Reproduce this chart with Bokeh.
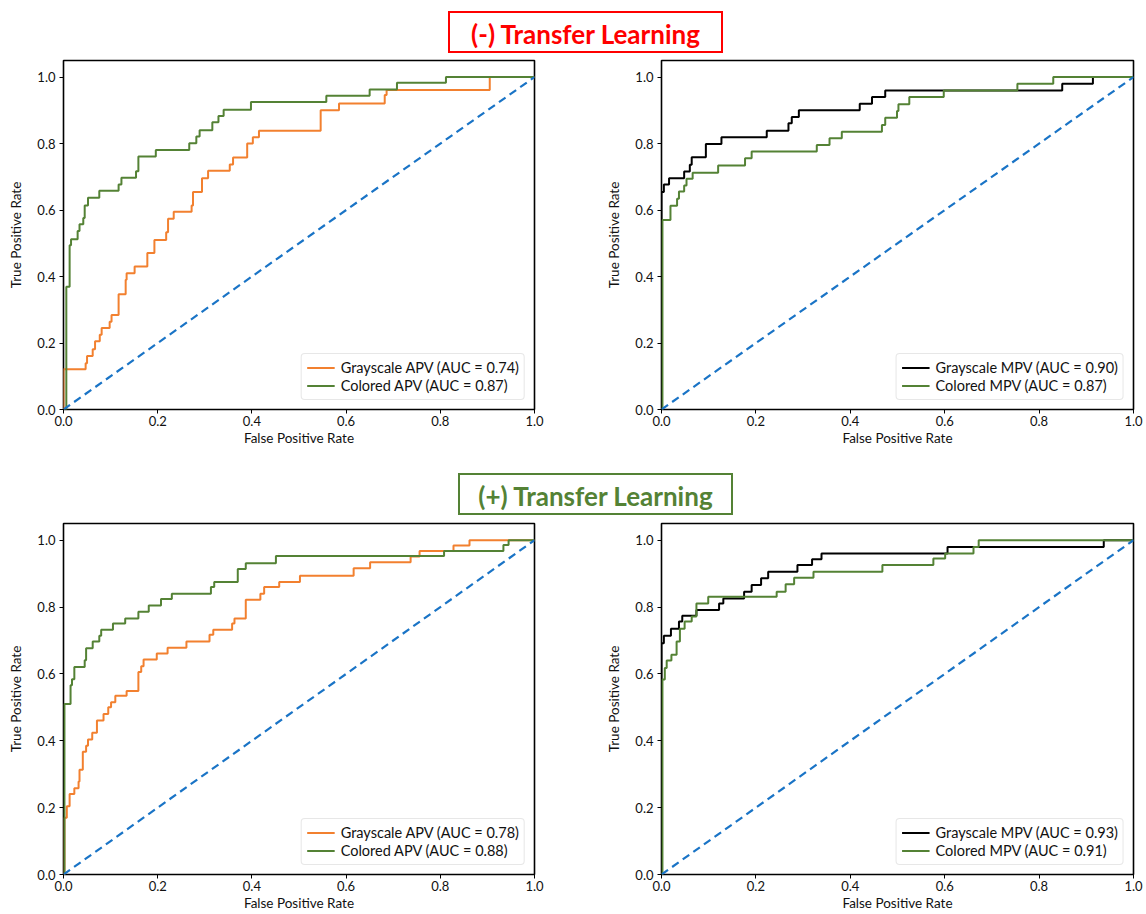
from bokeh.plotting import figure
from bokeh.models import Range1d, FixedTicker, PrintfTickFormatter, Div, Legend
from bokeh.layouts import column, row
from bokeh.embed import file_html
from bokeh.resources import INLINE

# ---------------- data (ROC corner points) ----------------
chance_fpr = [0.0, 1.0]
chance_tpr = [0.0, 1.0]

# (-) Transfer learning, APV
tl_gray_apv_fpr = [0, 0, 0.047, 0.050, 0.062, 0.067, 0.077, 0.081, 0.098, 0.102, 0.117, 0.132, 0.134,
                   0.151, 0.178, 0.193, 0.218, 0.222, 0.234, 0.272, 0.275, 0.294, 0.307, 0.353, 0.360,
                   0.390, 0.402, 0.415, 0.546, 0.585, 0.682, 0.686, 0.905, 1.0]
tl_gray_apv_tpr = [0, 0.121, 0.139, 0.161, 0.181, 0.205, 0.225, 0.245, 0.264, 0.284, 0.347, 0.390, 0.410,
                   0.430, 0.471, 0.510, 0.533, 0.574, 0.595, 0.614, 0.654, 0.696, 0.718, 0.737, 0.758,
                   0.800, 0.819, 0.839, 0.900, 0.921, 0.946, 0.961, 1.0, 1.0]
tl_col_apv_fpr = [0, 0.006, 0.013, 0.016, 0.030, 0.034, 0.042, 0.045, 0.052, 0.076, 0.117, 0.123, 0.154,
                  0.159, 0.196, 0.267, 0.282, 0.289, 0.316, 0.329, 0.340, 0.398, 0.558, 0.650, 0.708,
                  0.812, 1.0]
tl_col_apv_tpr = [0, 0.369, 0.494, 0.512, 0.537, 0.557, 0.576, 0.614, 0.637, 0.658, 0.677, 0.697, 0.717,
                  0.761, 0.781, 0.801, 0.821, 0.840, 0.864, 0.883, 0.902, 0.925, 0.944, 0.963, 0.983,
                  1.0, 1.0]

# (-) Transfer learning, MPV
tr_gray_mpv_fpr = [0, 0, 0.005, 0.016, 0.048, 0.060, 0.064, 0.094, 0.127, 0.223, 0.269, 0.276, 0.291,
                   0.420, 0.446, 0.474, 0.849, 0.914, 1.0]
tr_gray_mpv_tpr = [0, 0.654, 0.677, 0.696, 0.716, 0.736, 0.759, 0.799, 0.819, 0.839, 0.861, 0.880, 0.900,
                   0.920, 0.940, 0.960, 0.980, 1.0, 1.0]
tr_col_mpv_fpr = [0, 0.002, 0.019, 0.033, 0.037, 0.048, 0.053, 0.066, 0.120, 0.177, 0.191, 0.329, 0.356,
                  0.382, 0.467, 0.474, 0.499, 0.502, 0.525, 0.598, 0.754, 0.830, 1.0]
tr_col_mpv_tpr = [0, 0.570, 0.613, 0.634, 0.656, 0.674, 0.694, 0.712, 0.734, 0.756, 0.776, 0.796, 0.816,
                  0.836, 0.856, 0.878, 0.898, 0.918, 0.940, 0.960, 0.980, 1.0, 1.0]

# (+) Transfer learning, APV
bl_gray_apv_fpr = [0, 0.002, 0.007, 0.013, 0.023, 0.032, 0.034, 0.041, 0.048, 0.052, 0.061, 0.071, 0.085,
                   0.095, 0.101, 0.110, 0.134, 0.159, 0.165, 0.170, 0.198, 0.221, 0.261, 0.310, 0.318,
                   0.358, 0.363, 0.387, 0.418, 0.426, 0.458, 0.502, 0.616, 0.651, 0.737, 0.756, 0.828,
                   0.862, 1.0]
bl_gray_apv_tpr = [0, 0.170, 0.204, 0.241, 0.258, 0.278, 0.313, 0.367, 0.385, 0.404, 0.424, 0.461, 0.480,
                   0.500, 0.515, 0.535, 0.549, 0.606, 0.623, 0.643, 0.661, 0.678, 0.697, 0.717, 0.732,
                   0.751, 0.766, 0.822, 0.840, 0.860, 0.875, 0.894, 0.916, 0.934, 0.951, 0.968, 0.984,
                   1.0, 1.0]
bl_col_apv_fpr = [0, 0.002, 0.015, 0.018, 0.023, 0.045, 0.048, 0.062, 0.076, 0.080, 0.105, 0.131, 0.159,
                  0.181, 0.207, 0.230, 0.313, 0.320, 0.370, 0.387, 0.451, 0.808, 0.934, 0.945, 1.0]
bl_col_apv_tpr = [0, 0.510, 0.566, 0.584, 0.621, 0.641, 0.677, 0.697, 0.714, 0.732, 0.751, 0.766, 0.786,
                  0.805, 0.824, 0.840, 0.860, 0.875, 0.914, 0.931, 0.953, 0.968, 0.986, 1.0, 1.0]

# (+) Transfer learning, MPV
br_gray_mpv_fpr = [0, 0, 0.005, 0.020, 0.037, 0.044, 0.074, 0.122, 0.131, 0.175, 0.191, 0.211, 0.226,
                   0.288, 0.319, 0.339, 0.606, 0.937, 1.0]
br_gray_mpv_tpr = [0, 0.692, 0.714, 0.735, 0.757, 0.774, 0.791, 0.811, 0.826, 0.846, 0.866, 0.886, 0.906,
                   0.926, 0.943, 0.960, 0.980, 1.0, 1.0]
br_col_mpv_fpr = [0, 0.002, 0.007, 0.011, 0.021, 0.032, 0.039, 0.049, 0.064, 0.074, 0.099, 0.244, 0.263,
                  0.281, 0.322, 0.468, 0.576, 0.601, 0.661, 0.672, 1.0]
br_col_mpv_tpr = [0, 0.583, 0.618, 0.640, 0.657, 0.697, 0.735, 0.757, 0.772, 0.811, 0.831, 0.846, 0.868,
                  0.888, 0.906, 0.926, 0.945, 0.960, 0.980, 1.0, 1.0]

titles = ["(-) Transfer Learning", "(+) Transfer Learning"]
tick_values = [0.0, 0.2, 0.4, 0.6, 0.8, 1.0]

# ---------------- styling ----------------
FONT = "Lato"
ORANGE = "#F2802F"
GREEN = "#548235"
BLACK = "#000000"
BLUE = "#1a74c6"
RED = "#FF0000"


def make_fig(width, height, bl, br, bt, bb):
    p = figure(width=width, height=height, x_range=Range1d(0, 1), y_range=Range1d(0, 1.05),
               output_backend="svg", toolbar_location=None,
               min_border_left=bl, min_border_right=br, min_border_top=bt, min_border_bottom=bb)
    p.xgrid.visible = False
    p.ygrid.visible = False
    p.outline_line_color = "black"
    p.outline_line_width = 1.6
    p.outline_line_alpha = 1.0
    p.background_fill_color = "white"
    p.border_fill_color = "white"
    for ax in (p.xaxis[0], p.yaxis[0]):
        ax.ticker = FixedTicker(ticks=tick_values)
        ax.formatter = PrintfTickFormatter(format="%.1f")
        ax.axis_line_color = None
        ax.major_tick_line_color = "black"
        ax.major_tick_line_width = 1
        ax.major_tick_out = 4
        ax.major_tick_in = 0
        ax.minor_tick_line_color = None
        ax.major_label_text_font = FONT
        ax.major_label_text_font_size = "13px"
        ax.major_label_text_color = "#111111"
        ax.axis_label_text_font = FONT
        ax.axis_label_text_font_size = "13.5px"
        ax.axis_label_text_font_style = "normal"
        ax.axis_label_text_color = "#111111"
    p.xaxis[0].major_label_standoff = 2
    p.xaxis[0].axis_label_standoff = 1
    p.yaxis[0].major_label_standoff = 4
    p.yaxis[0].axis_label_standoff = 10
    p.xaxis[0].axis_label = "False Positive Rate"
    p.yaxis[0].axis_label = "True Positive Rate"
    return p


def add_curves(p, f1, t1, c1, lab1, f2, t2, c2, lab2):
    p.step(f1, t1, mode="after", line_color=c1, line_width=2, legend_label=lab1)
    p.step(f2, t2, mode="after", line_color=c2, line_width=2, legend_label=lab2)
    p.line(chance_fpr, chance_tpr, line_color=BLUE, line_width=2.2, line_dash="8 5")
    lg = p.legend[0]
    lg.location = "bottom_right"
    lg.margin = 9
    lg.padding = 5
    lg.spacing = 1
    lg.label_height = 15
    lg.glyph_height = 15
    lg.glyph_width = 28
    lg.label_standoff = 6
    lg.label_text_font = FONT
    lg.label_text_font_size = "14.5px"
    lg.label_text_color = "#111111"
    lg.border_line_color = "#cfcfcf"
    lg.border_line_width = 1
    lg.background_fill_alpha = 0.85
    if "border_radius" in Legend.properties():
        lg.border_radius = 4


def title_div(text, color, left, top, height):
    html = (f'<div style="margin-left:{left}px;margin-top:{top}px;width:275px;height:42px;'
            f'border:2px solid {color};color:{color};font-family:Lato;font-weight:bold;'
            f'font-size:26px;line-height:42px;text-align:center;white-space:nowrap;">{text}</div>')
    return Div(text=html, width=1146, height=height, margin=(0, 0, 0, 0))


W_L, W_R = 603, 543

p_tl = make_fig(W_L, 390, 63, 69, 2, 37)
add_curves(p_tl, tl_gray_apv_fpr, tl_gray_apv_tpr, ORANGE, "Grayscale APV (AUC = 0.74)",
           tl_col_apv_fpr, tl_col_apv_tpr, GREEN, "Colored APV (AUC = 0.87)")
p_tr = make_fig(W_R, 390, 58, 13, 2, 37)
add_curves(p_tr, tr_gray_mpv_fpr, tr_gray_mpv_tpr, BLACK, "Grayscale MPV (AUC = 0.90)",
           tr_col_mpv_fpr, tr_col_mpv_tpr, GREEN, "Colored MPV (AUC = 0.87)")
p_bl = make_fig(W_L, 394, 63, 69, 3, 40)
add_curves(p_bl, bl_gray_apv_fpr, bl_gray_apv_tpr, ORANGE, "Grayscale APV (AUC = 0.78)",
           bl_col_apv_fpr, bl_col_apv_tpr, GREEN, "Colored APV (AUC = 0.88)")
p_br = make_fig(W_R, 394, 58, 13, 3, 40)
add_curves(p_br, br_gray_mpv_fpr, br_gray_mpv_tpr, BLACK, "Grayscale MPV (AUC = 0.93)",
           br_col_mpv_fpr, br_col_mpv_tpr, GREEN, "Colored MPV (AUC = 0.91)")

d1 = title_div(titles[0], RED, 448, 11, 58)
d2 = title_div(titles[1], GREEN, 458, 25, 72)

layout = column(d1, row(p_tl, p_tr, spacing=0), d2, row(p_bl, p_br, spacing=0), spacing=0)

open("out.html", "w").write(file_html(layout, INLINE))
